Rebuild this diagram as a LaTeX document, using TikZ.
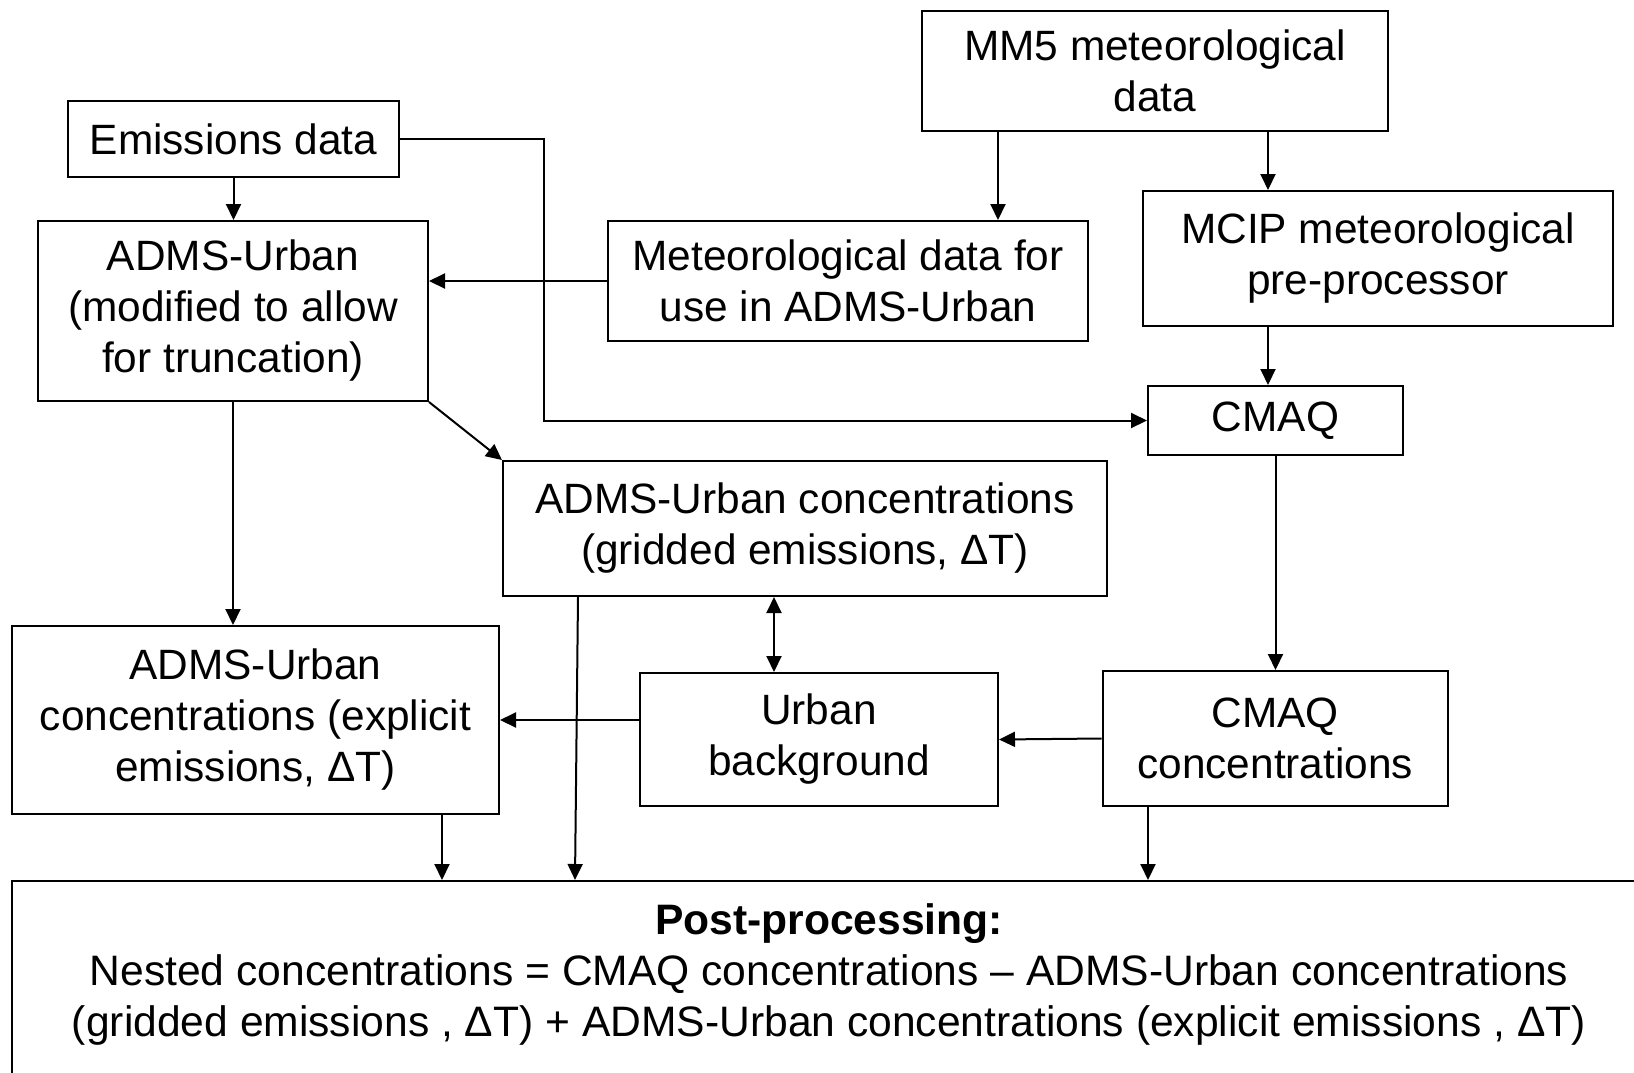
\documentclass[tikz,border=0pt]{standalone}
\usepackage{fontspec}
\setmainfont{Liberation Sans}
\usetikzlibrary{arrows.meta}
\begin{document}
\begin{tikzpicture}[x=1pt,y=-1pt,
  box/.style={draw, line width=2pt, rectangle, inner sep=0pt, align=center, font=\fontsize{42.4}{51}\selectfont},
  tip/.tip={Triangle[length=16pt,width=15pt]},
  arr/.style={line width=2pt, -tip},
  darr/.style={line width=2pt, tip-tip}]
\useasboundingbox[fill=white] (0,0) rectangle (1634,1072);
% nodes
\node[box, minimum width=331pt, minimum height=76pt] (em) at (233.5,139) {Emissions data};
\node[box, minimum width=390pt, minimum height=180pt] (adms) at (233,311) {ADMS-Urban\\(modified to allow\\for truncation)};
\node[box, minimum width=480pt, minimum height=120pt] (met) at (848,281) {Meteorological data for\\use in ADMS-Urban};
\node[box, minimum width=466pt, minimum height=120pt] (mm5) at (1155,71) {MM5 meteorological\\data};
\node[box, minimum width=470pt, minimum height=135pt] (mcip) at (1378,258.5) {MCIP meteorological\\pre-processor};
\node[box, minimum width=255pt, minimum height=69pt] (cmaq) at (1275.5,420.5) {CMAQ};
\node[box, minimum width=604pt, minimum height=135pt] (grid) at (805,528.5) {ADMS-Urban concentrations\\(gridded emissions, ΔT)};
\node[box, minimum width=487pt, minimum height=188pt] (expl) at (255.5,720) {ADMS-Urban\\concentrations (explicit\\emissions, ΔT)};
\node[box, minimum width=358pt, minimum height=133pt] (urban) at (819,739.5) {Urban\\background};
\node[box, minimum width=345.5pt, minimum height=135pt] (cconc) at (1275.25,738.5) {CMAQ\\concentrations};
\node[draw, line width=2pt, inner sep=0pt, minimum width=1640pt, minimum height=220pt] (post) at (832,991) {};
\node[align=center, inner sep=0pt, font=\fontsize{42.6}{51}\selectfont] (posttxt) at (829,974) {\textbf{Post-processing:}\\Nested concentrations = CMAQ concentrations – ADMS-Urban concentrations\\(gridded emissions , ΔT) + ADMS-Urban concentrations (explicit emissions , ΔT)};
% helper coordinates
\coordinate (xa) at (544,0);
\coordinate (xb) at (998,0);
\coordinate (xc) at (1268,0);
\coordinate (xd) at (774,0);
\coordinate (xe) at (578,0);
\coordinate (xf) at (575,0);
\coordinate (xg) at (442,0);
\coordinate (xh) at (1148,0);
% connectors
\draw[arr] (em.east) -- (em.east -| xa) -- (cmaq.west -| xa) -- (cmaq.west);
\draw[arr] (em.south) -- (em.south |- adms.north);
\draw[arr] (met.west) -- (met.west -| adms.east);
\draw[arr] (mm5.south -| xb) -- (met.north -| xb);
\draw[arr] (mm5.south -| xc) -- (mcip.north -| xc);
\draw[arr] (mcip.south -| xc) -- (cmaq.north -| xc);
\draw[arr] (cmaq.south) -- (cmaq.south |- cconc.north);
\draw[arr] (cconc.west) -- (urban.east);
\draw[arr] (urban.west |- expl.east) -- (expl.east);
\draw[darr] (grid.south -| xd) -- (urban.north -| xd);
\draw[arr] (adms.south east) -- (grid.north west);
\draw[arr] (adms.south) -- (adms.south |- expl.north);
\draw[arr] (grid.south -| xe) -- (post.north -| xf);
\draw[arr] (expl.south -| xg) -- (post.north -| xg);
\draw[arr] (cconc.south -| xh) -- (post.north -| xh);
\end{tikzpicture}
\end{document}
